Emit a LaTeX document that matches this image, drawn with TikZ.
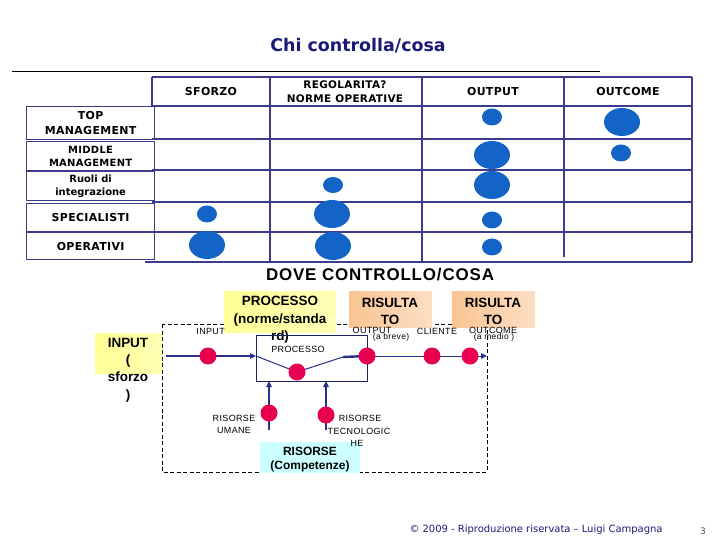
\documentclass[tikz,border=0pt]{standalone}
\usepackage{fontspec}
\setmainfont{DejaVu Sans}
\newfontfamily\hdf[LetterSpace=3]{DejaVu Sans}
\newfontfamily\lsb{Liberation Sans}
\newfontfamily\lsbsp[LetterSpace=5]{Liberation Sans}
\newfontfamily\lsp[LetterSpace=4]{Liberation Sans}
\usetikzlibrary{arrows.meta,shapes.geometric}
\pgfdeclarelayer{bg}
\pgfsetlayers{bg,main}
\definecolor{gridc}{RGB}{60,60,140}
\definecolor{dotb}{RGB}{20,100,200}
\definecolor{dotr}{RGB}{232,0,80}
\definecolor{titc}{RGB}{26,26,120}
\definecolor{yel}{RGB}{255,255,150}
\definecolor{ora}{RGB}{249,196,146}
\definecolor{cya}{RGB}{204,255,255}
\definecolor{linec}{RGB}{40,50,140}
\begin{document}
\begin{tikzpicture}[x=1bp,y=-1bp,
  gridl/.style={draw=gridc, line width=1.2bp},
  rowlab/.style={draw=gridc, line width=1.2bp, anchor=north west, inner sep=0, align=center,
     font=\hdf\bfseries\fontsize{11}{14.5}\selectfont, minimum width=128bp},
  hdr/.style={align=center, font=\hdf\bfseries\fontsize{11}{14}\selectfont, inner sep=0},
  bsm/.style={ellipse, fill=dotb, inner sep=0, minimum width=20bp, minimum height=17bp},
  blg/.style={ellipse, fill=dotb, inner sep=0, minimum width=36bp, minimum height=28bp},
  rdot/.style={circle, fill=dotr, inner sep=0, minimum size=17bp},
  lbl/.style={font=\lsp\fontsize{9}{12}\selectfont, inner sep=0, align=center},
  bigt/.style={font=\lsb\bfseries\fontsize{13.5}{17.5}\selectfont, align=center, inner sep=0},
  flow/.style={draw=linec, line width=2.4bp},
  thinl/.style={draw=linec, line width=1bp},
  tip/.style={-{Triangle[length=6bp,width=5.5bp]}},
]
\useasboundingbox (0,0) rectangle (720,540);

% ---------- title ----------
\node[font=\bfseries\fontsize{17.5}{20}\selectfont, text=titc, inner sep=0] (title) at (358,46) {Chi controlla/cosa};
\draw[line width=1bp] (12,72) -- (600,72);

% ---------- table grid ----------
\draw[gridl] (152,77) -- (692,77);
\draw[gridl] (152,77) -- (152,106);
\draw[gridl] (270,77) -- (270,262);
\draw[gridl] (422,77) -- (422,262);
\draw[gridl] (564,77) -- (564,257);
\draw[gridl] (692,77) -- (692,262);
\foreach \yy in {106,139,170,202,232} \draw[gridl] (152,\yy) -- (692,\yy);
\draw[gridl] (145,262) -- (692,262);

% headers
\node[hdr] (hsf) at (211,92) {SFORZO};
\node[hdr, font=\hdf\bfseries\fontsize{10.5}{14}\selectfont] (hreg) at (345,92) {REGOLARITA?\\NORME OPERATIVE};
\node[hdr] (hout) at (493,92) {OUTPUT};
\node[hdr] (hoc) at (628,92) {OUTCOME};

% row labels
\node[rowlab, minimum height=33bp] (rtop) at (26,106) {TOP\\MANAGEMENT};
\node[rowlab, minimum height=29bp, font=\hdf\bfseries\fontsize{10}{13}\selectfont] (rmid) at (26,141) {MIDDLE\\MANAGEMENT};
\node[rowlab, minimum height=29bp, font=\bfseries\fontsize{10}{13}\selectfont] (rruo) at (26,171) {Ruoli di\\integrazione};
\node[rowlab, minimum height=28bp] (rspe) at (26,203) {SPECIALISTI};
\node[rowlab, minimum height=27bp] (rope) at (26,232) {OPERATIVI};

% blue dots
\node[bsm] (b1) at (492,117) {};
\node[blg] (b2) at (622,122) {};
\node[blg] (b3) at (492,155) {};
\node[bsm] (b4) at (621,153) {};
\node[bsm, minimum height=16bp] (b5) at (333,185) {};
\node[blg] (b6) at (492,185) {};
\node[bsm] (b7) at (207,214) {};
\node[blg] (b8) at (332,214) {};
\node[bsm] (b9) at (492,220) {};
\node[blg] (b10) at (207,245) {};
\node[blg] (b11) at (333,246) {};
\node[bsm] (b12) at (492,247) {};

% ---------- second part ----------
\node[font=\lsbsp\bfseries\fontsize{17}{20}\selectfont, inner sep=0] (dove) at (380,275) {DOVE CONTROLLO/COSA};

\draw[line width=0.9bp, dash pattern=on 4bp off 2.5bp] (162,324) rectangle (487,472);

% coloured boxes
\node[anchor=north west, inner sep=0, minimum width=112bp, minimum height=41bp, left color=yel, right color=yel!70!white] (pbox) at (224,291) {};
\node[bigt] (ptxt) at (280,320) {PROCESSO\\(norme/standa\\rd)};
\node[anchor=north west, inner sep=0, minimum width=67bp, minimum height=40bp, left color=yel, right color=yel!70!white] (ibox) at (95,333) {};
\node[bigt] (itxt) at (128,370) {INPUT\\(\\sforzo\\)};
\node[anchor=north west, inner sep=0, minimum width=83bp, minimum height=36bp, left color=ora, right color=ora!55!white] (r1box) at (349,291) {};
\node[bigt, font=\lsb\bfseries\fontsize{13.5}{17}\selectfont] (r1txt) at (390,311) {RISULTA\\TO};
\node[anchor=north west, inner sep=0, minimum width=83bp, minimum height=36bp, left color=ora, right color=ora!55!white] (r2box) at (452,291) {};
\node[bigt, font=\lsb\bfseries\fontsize{13.5}{17}\selectfont] (r2txt) at (493,311) {RISULTA\\TO};
\node[anchor=north west, inner sep=0, minimum width=100bp, minimum height=31bp, fill=cya] (rsbox) at (260,442) {};
\node[bigt, font=\lsb\bfseries\fontsize{12}{14}\selectfont] (rstxt) at (310,460) {RISORSE\\(Competenze)};

% process rectangle
\node[draw=linec!70!black, line width=1bp, anchor=north west, inner sep=0, minimum width=111bp, minimum height=46bp] (proc) at (256,335) {};

% coordinates
\coordinate (cin) at (166,356);
\coordinate (pin) at (256,356);
\coordinate (pmid) at (343,357);
\coordinate (cend) at (487,356);
\coordinate (u0) at (269,430);
\coordinate (u1) at (269,381);
\coordinate (t0) at (326,430);
\coordinate (t1) at (326,381);

% red dots
\node[rdot] (din) at (208,356) {};
\node[rdot] (dpr) at (297,372) {};
\node[rdot] (dout) at (367,356) {};
\node[rdot] (dcl) at (432,356) {};
\node[rdot] (doc) at (470,356) {};
\node[rdot] (dum) at (269,413) {};
\node[rdot] (dte) at (326,415) {};

% connectors (behind the dots)
\begin{pgfonlayer}{bg}
\draw[flow, tip] (cin) -- (pin);
\draw[thinl] (pin) -- (dpr.center) -- (pmid);
\draw[flow] (pmid) -- (dout.center);
\draw[thinl, tip] (dout.center) -- (cend);
\draw[flow, line width=2bp, tip] (u0) -- (u1);
\draw[thinl, line width=1.5bp, tip] (t0) -- (t1);
\end{pgfonlayer}

% small labels
\node[lbl, anchor=east] (linp) at (225,331) {INPUT};
\node[lbl] (lproc) at (298,349) {PROCESSO};
\node[lbl] (lout) at (372,330) {OUTPUT};
\node[lbl, font=\lsp\fontsize{8.5}{12}\selectfont] (lbrev) at (391,337) {(a breve)};
\node[lbl] (lcli) at (437,331) {CLIENTE};
\node[lbl] (loc) at (493,330) {OUTCOME};
\node[lbl, font=\lsp\fontsize{8.5}{12}\selectfont] (lmed) at (494,337) {(a medio )};
\node[lbl] (lum) at (234,424) {RISORSE\\UMANE};
\node[lbl] (lte1) at (360,418) {RISORSE};
\node[lbl] (lte2) at (359,431) {TECNOLOGIC};
\node[lbl] (lte3) at (357,443) {HE};

% footer
\node[font=\fontsize{10}{12}\selectfont, text=titc, inner sep=0] (foot) at (536,530) {© 2009 - Riproduzione riservata – Luigi Campagna};
\node[font=\fontsize{9}{11}\selectfont, text=black!70, inner sep=0] (pg) at (703,531) {3};
\end{tikzpicture}
\end{document}
